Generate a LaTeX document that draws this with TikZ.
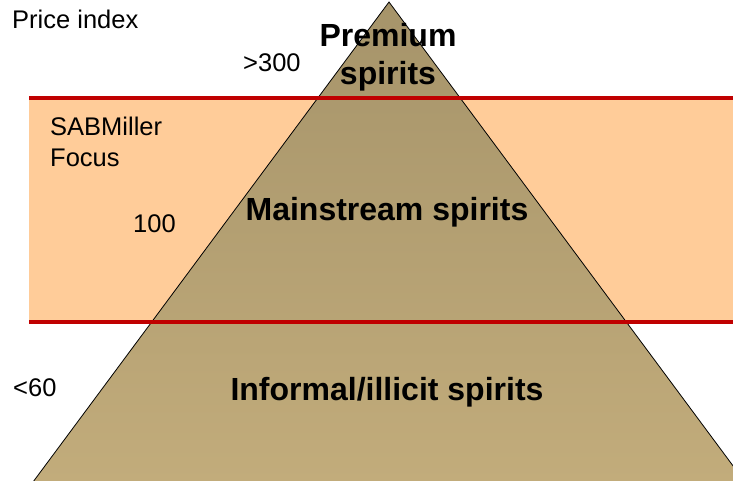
\documentclass[tikz,border=0pt]{standalone}
\usepackage{fontspec}
\setmainfont{Liberation Sans}
\definecolor{bandfill}{RGB}{255,204,153}
\definecolor{redline}{RGB}{192,0,0}
\definecolor{pyrtop}{RGB}{166,148,106}
\definecolor{pyrbot}{RGB}{194,172,123}
\begin{document}
\begin{tikzpicture}[x=1pt,y=-1pt,
  lbl/.style={inner sep=0pt,font=\fontsize{25.5}{31}\selectfont,anchor=west},
  big/.style={inner sep=0pt,font=\bfseries\fontsize{32}{38}\selectfont,align=center},
  redrule/.style={draw=redline,line width=4.5pt}]
\useasboundingbox (0,0) rectangle (733,480);
\clip (0,0) rectangle (733,480);
% band
\fill[bandfill] (29,98) rectangle (740,322);
% pyramid
\coordinate (apex) at (389,2);
\coordinate (bl) at (33,482);
\coordinate (br) at (745,482);
\shade[top color=pyrtop,bottom color=pyrbot,draw=black,line width=0.8pt] (apex) -- (bl) -- (br) -- cycle;
% red rules
\coordinate (r1a) at (29,98);
\coordinate (r1b) at (740,98);
\coordinate (r2a) at (29,322);
\coordinate (r2b) at (740,322);
\draw[redrule] (r1a) -- (r1b);
\draw[redrule] (r2a) -- (r2b);
% labels
\node[lbl] (price) at (12,19) {Price index};
\node[lbl] (p300) at (243,63) {>300};
\node[lbl,align=left] (focus) at (50,142) {SABMiller\\Focus};
\node[lbl] (p100) at (133,224) {100};
\node[lbl] (p60) at (13,388) {<60};
\node[big] (premium) at (388,57) {Premium\\spirits};
\node[big] (main) at (387,212) {Mainstream spirits};
\node[big] (informal) at (387,392) {Informal/illicit spirits};
\end{tikzpicture}
\end{document}
